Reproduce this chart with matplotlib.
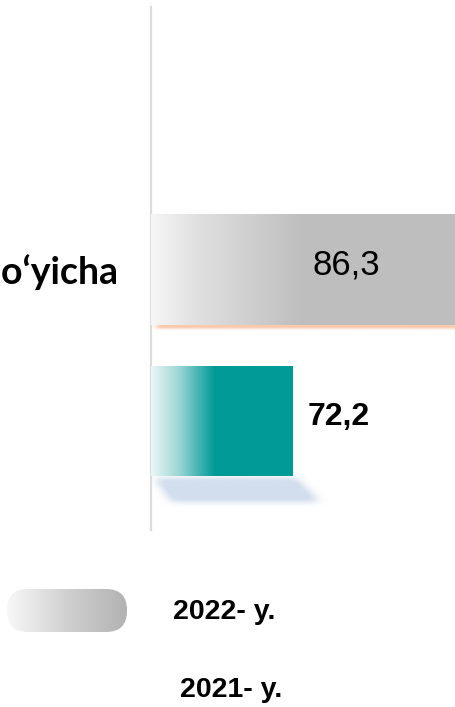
import numpy as np
import matplotlib
matplotlib.use("Agg")
import matplotlib.pyplot as plt
from matplotlib.colors import LinearSegmentedColormap, to_rgb
from matplotlib.patches import FancyBboxPatch
from matplotlib.path import Path

# data
category = "Respublika bo\u2018yicha"
years = ["2022- y.", "2021- y."]
values = [86.3, 72.2]
value_labels = ["86,3", "72,2"]
x_min = 60

W, H = 455, 707
fig = plt.figure(figsize=(W / 100, H / 100), dpi=100)
fig.patch.set_facecolor("white")


def gradient_fill(ax, patch, stops, colors, z=2):
    '''fill a rectangle patch with a left-to-right gradient'''
    cmap = LinearSegmentedColormap.from_list("g", list(zip(stops, colors)))
    x0, y0 = patch.get_x(), patch.get_y()
    w, h = patch.get_width(), patch.get_height()
    im = ax.imshow(np.linspace(0, 1, 256)[None, :], cmap=cmap, aspect="auto",
                   extent=(x0, x0 + w, y0 + h, y0), interpolation="bilinear",
                   zorder=z)
    im.set_clip_path(patch)
    patch.set_facecolor("none")
    patch.set_edgecolor("none")
    return im


def soft_shadow(ax, corners, color, blur, alpha, z=1):
    '''blurred polygon, blur = box sizes in grid cells (x, y)'''
    corners = np.asarray(corners)
    xs, ys = corners[:, 0], corners[:, 1]
    mx = (xs.max() - xs.min()) * 0.3
    my = max(ys.max() - ys.min(), 0.05) * 1.5
    x0, x1 = xs.min() - mx, xs.max() + mx
    y0, y1 = ys.min() - my, ys.max() + my
    nx, ny = 300, 100
    gx, gy = np.meshgrid(np.linspace(x0, x1, nx), np.linspace(y0, y1, ny))
    inside = Path(corners).contains_points(np.c_[gx.ravel(), gy.ravel()])
    a = inside.reshape(ny, nx).astype(float)
    kx = np.ones(blur[0]) / blur[0]
    ky = np.ones(blur[1]) / blur[1]
    for _ in range(2):
        a = np.apply_along_axis(lambda r: np.convolve(r, kx, mode="same"), 1, a)
        a = np.apply_along_axis(lambda c: np.convolve(c, ky, mode="same"), 0, a)
    a = np.clip(a / a.max() * 1.2, 0, 1)
    rgba = np.zeros((ny, nx, 4))
    rgba[..., :3] = to_rgb(color)
    rgba[..., 3] = a * alpha
    ax.imshow(rgba, extent=(x0, x1, y0, y1), origin="lower", aspect="auto",
              interpolation="bilinear", zorder=z)


# main axes
ax = fig.add_axes([151 / W, 1 - 530 / H, 304 / W, 523 / H])
pos = np.arange(len(values))
bar_h = 0.73
bars = ax.barh(pos, [v - x_min for v in values], left=x_min, height=bar_h)

gradient_fill(ax, bars[0], [0, 0.15, 0.5, 1],
              ["#f6f6f6", "#e0e0e0", "#bebebe", "#bebebe"], z=3)
gradient_fill(ax, bars[1], [0, 0.2, 0.32, 0.45, 1],
              ["#eaf7f7", "#9ad5d4", "#4db8b6", "#009a97", "#009a97"], z=3)

# shadows under bars
b0 = bars[0]
bot0 = b0.get_y() + b0.get_height()
soft_shadow(ax, [(x_min + 0.4, bot0 - 0.01), (values[0] + 1, bot0 - 0.01),
                 (values[0] + 1, bot0 + 0.03), (x_min + 0.4, bot0 + 0.03)],
            "#f9c4a4", (5, 9), 0.9, z=2)
b1 = bars[1]
bot1 = b1.get_y() + b1.get_height()
soft_shadow(ax, [(x_min + 0.3, bot1 + 0.01), (values[1] + 0.3, bot1 + 0.01),
                 (values[1] + 2.4, bot1 + 0.17), (x_min + 1.8, bot1 + 0.17)],
            "#d2deee", (13, 7), 1.0, z=2)

ax.set_xlim(x_min, values[0])
ax.set_ylim(1.717, -1.724)

# value labels
ax.annotate(value_labels[0], xy=(values[0], pos[0]), xytext=(-78, 3),
            textcoords="offset points", ha="center", va="center",
            fontsize=25, family="Liberation Sans", color="black", zorder=5)
ax.annotate(value_labels[1], xy=(values[1], pos[1]), xytext=(11, 3),
            textcoords="offset points", ha="left", va="center",
            fontsize=23, fontweight="bold", family="Liberation Sans",
            color="black", zorder=5)

ax.set_yticks([0])
ax.set_yticklabels([category], fontsize=27, fontweight="bold", family="Lato")
ax.tick_params(axis="y", length=0, pad=24)
ax.set_xticks([])
for s in ["top", "right", "bottom"]:
    ax.spines[s].set_visible(False)
ax.spines["left"].set_color("#dcdcdc")
ax.spines["left"].set_linewidth(1.6)

# legend
lax = fig.add_axes([0, 0, 1, 137 / H])
lax.axis("off")
pill = FancyBboxPatch((7, 19), 120, 43, boxstyle="round,pad=0,rounding_size=21",
                      transform=lax.transData)
lax.add_patch(pill)
cm = LinearSegmentedColormap.from_list("p", ["#f8f8f8", "#d0d0d0", "#b2b2b2"])
im = lax.imshow(np.linspace(0, 1, 256)[None, :], cmap=cm, aspect="auto",
                extent=(7, 127, 62, 19), interpolation="bilinear")
im.set_clip_path(pill)
pill.set_facecolor("none")
pill.set_edgecolor("none")
lax.set_xlim(0, W)
lax.set_ylim(137, 0)

lax.text(173, 42, years[0], ha="left", va="center", fontsize=20.5,
         fontweight="bold", family="Liberation Sans")
lax.text(180, 120, years[1], ha="left", va="center", fontsize=20.5,
         fontweight="bold", family="Liberation Sans")

fig.savefig("out.png", dpi=100)
